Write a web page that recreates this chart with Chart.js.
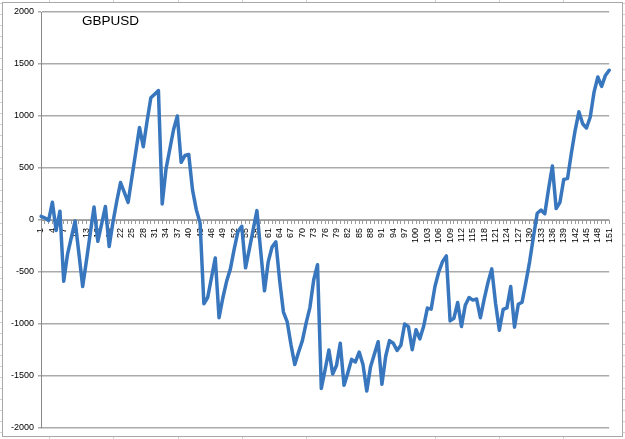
<!DOCTYPE html>
<html>
<head>
<meta charset="utf-8">
<script src="https://cdn.jsdelivr.net/npm/chart.js@4.4.1/dist/chart.umd.min.js"></script>
<style>
  body {
    margin: 0;
    width: 625px;
    height: 439px;
    overflow: hidden;
    background-color: #fff;
    background-image:
      repeating-linear-gradient(to right, transparent 0 49px, #d2d2d2 49px 50px, transparent 50px 64.3px),
      repeating-linear-gradient(to bottom, transparent 0 3px, #d2d2d2 3px 4px, transparent 4px 11px);
  }
  #frame {
    position: absolute;
    left: 2px;
    top: 2px;
    width: 619px;
    height: 433px;
    background: #fff;
    border: 1px solid #a8a8a8;
  }
  #wrap {
    position: absolute;
    left: 0;
    top: 0;
    width: 625px;
    height: 439px;
  }
  #title {
    position: absolute;
    left: 82px;
    top: 14px;
    font: 13.5px "Liberation Sans", Arial, sans-serif;
    line-height: 14px;
    color: #000;
  }
</style>
</head>
<body>
<div id="frame"></div>
<div id="wrap"><canvas id="myChart" width="625" height="439"></canvas></div>
<div id="title">GBPUSD</div>
<script>
// GBPUSD values, one per category 1..151
const gbpusd = [
  35, 20, -5, 170, -100, 85, -590, -330, -170, -10,
  -320, -640, -390, -130, 125, -205, -40, 130, -255, -20,
  180, 360, 265, 170, 410, 650, 890, 705, 950, 1175,
  1210, 1245, 155, 490, 680, 870, 1000, 555, 620, 630,
  290, 100, -30, -805, -745, -555, -365, -940, -750, -590,
  -470, -280, -110, -60, -460, -280, -95, 90, -300, -680,
  -400, -260, -210, -580, -885, -980, -1200, -1390, -1270, -1160,
  -990, -840, -575, -430, -1620, -1440, -1250, -1480, -1400, -1185,
  -1590, -1470, -1340, -1365, -1270, -1390, -1645, -1410, -1290, -1170,
  -1580, -1310, -1160, -1185, -1255, -1205, -1000, -1025, -1248, -1055,
  -1143, -1025, -847, -857, -640, -500, -400, -345, -970, -946,
  -793, -1025, -820, -745, -770, -760, -940, -760, -600, -470,
  -800, -1060, -860, -845, -640, -1030, -810, -790, -600, -400,
  -160, 65, 95, 60, 300, 520, 110, 170, 390, 400,
  640, 860, 1040, 925, 885, 990, 1230, 1375, 1285, 1390,
  1440
];
const categories = gbpusd.map((v, i) => String(i + 1));
const yTicks = [-2000, -1500, -1000, -500, 0, 500, 1000, 1500, 2000];
const labelEvery = 3;

const font = { family: '"Liberation Sans", Arial, sans-serif', size: 9 };

new Chart(document.getElementById('myChart'), {
  type: 'line',
  data: {
    labels: categories,
    datasets: [{
      label: 'GBPUSD',
      data: gbpusd,
      borderColor: 'rgb(56, 118, 190)',
      borderWidth: 3.5,
      pointRadius: 0,
      tension: 0,
      borderJoinStyle: 'round',
      borderCapStyle: 'round'
    }]
  },
  options: {
    responsive: false,
    animation: false,
    layout: { padding: { left: 0, right: 13, top: 12, bottom: 11 } },
    plugins: {
      legend: { display: false },
      tooltip: { enabled: false }
    },
    scales: {
      x: {
        position: { y: 0 },
        offset: false,
        afterFit: (scale) => { scale.height = 0; },
        grid: { drawOnChartArea: false, drawTicks: true, tickLength: 3, color: '#9a9a9a' },
        border: { color: '#9a9a9a', width: 1 },
        ticks: {
          autoSkip: false,
          maxRotation: 90,
          minRotation: 90,
          padding: 5,
          color: '#000',
          font: font,
          callback: (val, i) => (i % labelEvery === 0 ? categories[i] : '')
        }
      },
      y: {
        min: yTicks[0],
        max: yTicks[yTicks.length - 1],
        afterFit: (scale) => { scale.width = 41; },
        afterBuildTicks: (scale) => { scale.ticks = yTicks.map(v => ({ value: v })); },
        grid: { color: '#aaaaaa', lineWidth: 1.5, tickLength: 3 },
        border: { color: '#888', width: 1 },
        ticks: { padding: 4, color: '#000', font: font, callback: (v) => String(v) }
      }
    }
  }
});
</script>
</body>
</html>
